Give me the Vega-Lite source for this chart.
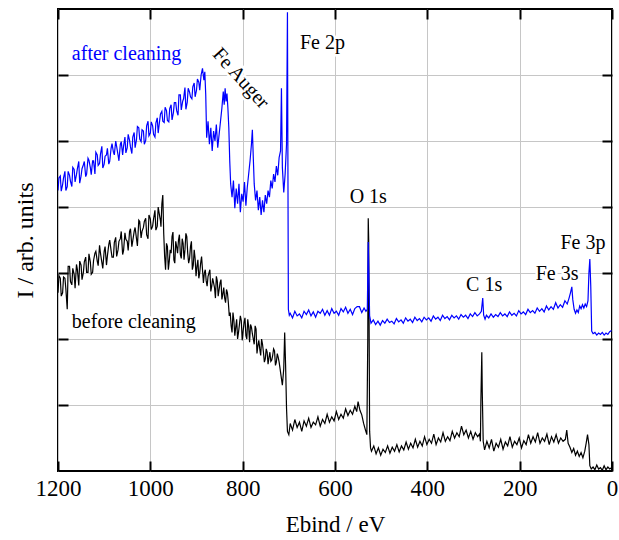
{
  "$schema": "https://vega.github.io/schema/vega-lite/v6.json",
  "width": 554,
  "height": 462,
  "autosize": "none",
  "padding": {"left": 58, "top": 9, "right": 7, "bottom": 69},
  "background": "white",
  "config": {
    "view": {"stroke": "black", "strokeWidth": 2},
    "font": "Liberation Serif",
    "axis": {
      "domain": false,
      "tickSize": -10,
      "tickWidth": 2,
      "tickColor": "black",
      "gridColor": "#c6c6c6",
      "gridWidth": 1,
      "labelFont": "Liberation Serif",
      "labelFontSize": 23,
      "labelColor": "black",
      "labelPadding": 16,
      "labelFlush": false,
      "labelOverlap": false,
      "titleFont": "Liberation Serif",
      "titleFontSize": 23,
      "titleFontWeight": "normal",
      "titleColor": "black"
    }
  },
  "datasets": {
    "after": [
      {"E":1200,"I":4.25},{"E":1195,"I":4.47},{"E":1190,"I":4.34},{"E":1185,"I":4.54},{"E":1180,"I":4.31},{"E":1175,"I":4.48},{"E":1170,"I":4.31},{"E":1165,"I":4.57},{"E":1160,"I":4.49},{"E":1155,"I":4.69},{"E":1150,"I":4.47},{"E":1145,"I":4.64},{"E":1140,"I":4.46},{"E":1135,"I":4.74},{"E":1130,"I":4.60},{"E":1125,"I":4.70},{"E":1120,"I":4.50},{"E":1115,"I":4.79},{"E":1110,"I":4.66},{"E":1105,"I":4.92},{"E":1100,"I":4.65},{"E":1095,"I":4.79},{"E":1090,"I":4.65},{"E":1085,"I":4.89},{"E":1080,"I":4.83},{"E":1075,"I":5.00},{"E":1070,"I":4.79},{"E":1065,"I":4.95},{"E":1060,"I":4.79},{"E":1055,"I":5.06},{"E":1050,"I":4.90},{"E":1045,"I":5.01},{"E":1040,"I":4.81},{"E":1035,"I":5.13},{"E":1030,"I":5.02},{"E":1025,"I":5.20},{"E":1020,"I":4.99},{"E":1015,"I":5.15},{"E":1010,"I":5.01},{"E":1005,"I":5.30},{"E":1000,"I":5.12},{"E":995,"I":5.23},{"E":990,"I":5.06},{"E":985,"I":5.35},{"E":980,"I":5.30},{"E":975,"I":5.45},{"E":970,"I":5.28},{"E":965,"I":5.46},{"E":960,"I":5.29},{"E":955,"I":5.55},{"E":950,"I":5.43},{"E":945,"I":5.58},{"E":940,"I":5.39},{"E":935,"I":5.70},{"E":930,"I":5.60},{"E":925,"I":5.81},{"E":920,"I":5.59},{"E":915,"I":5.74},{"E":910,"I":5.64},{"E":905,"I":5.88},{"E":900,"I":5.77},{"E":895,"I":5.89},{"E":890,"I":6.00},{"E":887,"I":6.10},{"E":884,"I":5.92},{"E":882,"I":6.05},{"E":880,"I":5.70},{"E":878,"I":5.05},{"E":875,"I":5.30},{"E":872,"I":4.95},{"E":869,"I":5.20},{"E":866,"I":4.85},{"E":863,"I":5.15},{"E":860,"I":5.00},{"E":857,"I":5.25},{"E":854,"I":4.90},{"E":851,"I":5.10},{"E":848,"I":5.30},{"E":845,"I":5.50},{"E":842,"I":5.75},{"E":840,"I":5.55},{"E":838,"I":5.80},{"E":836,"I":5.60},{"E":834,"I":5.72},{"E":832,"I":5.50},{"E":830,"I":5.20},{"E":828,"I":4.70},{"E":826,"I":4.35},{"E":823,"I":4.15},{"E":820,"I":4.40},{"E":817,"I":3.98},{"E":814,"I":4.28},{"E":811,"I":4.05},{"E":808,"I":4.35},{"E":805,"I":3.92},{"E":802,"I":4.20},{"E":799,"I":4.08},{"E":796,"I":4.38},{"E":793,"I":4.02},{"E":790,"I":4.30},{"E":787,"I":4.50},{"E":784,"I":4.70},{"E":781,"I":4.95},{"E":779,"I":5.17},{"E":777,"I":4.75},{"E":775,"I":4.35},{"E":772,"I":4.10},{"E":769,"I":4.25},{"E":766,"I":3.95},{"E":763,"I":4.15},{"E":760,"I":3.88},{"E":757,"I":4.10},{"E":754,"I":3.92},{"E":751,"I":4.18},{"E":748,"I":4.05},{"E":745,"I":4.25},{"E":742,"I":4.15},{"E":739,"I":4.40},{"E":736,"I":4.28},{"E":733,"I":4.50},{"E":730,"I":4.38},{"E":727,"I":4.62},{"E":724,"I":4.48},{"E":721,"I":4.75},{"E":718,"I":4.85},{"E":716,"I":5.80},{"E":714,"I":4.60},{"E":711,"I":4.22},{"E":708,"I":4.50},{"E":705,"I":4.95},{"E":703,"I":6.95},{"E":701,"I":2.45},{"E":699,"I":2.36},
      {"E":697,"I":2.39},{"E":692,"I":2.32},{"E":687,"I":2.42},{"E":682,"I":2.35},{"E":677,"I":2.38},{"E":672,"I":2.32},{"E":667,"I":2.42},{"E":662,"I":2.37},{"E":657,"I":2.44},{"E":652,"I":2.35},{"E":647,"I":2.41},{"E":642,"I":2.33},{"E":637,"I":2.42},{"E":632,"I":2.39},{"E":627,"I":2.45},{"E":622,"I":2.36},{"E":617,"I":2.43},{"E":612,"I":2.36},{"E":607,"I":2.46},{"E":602,"I":2.39},{"E":597,"I":2.42},{"E":592,"I":2.36},{"E":587,"I":2.46},{"E":582,"I":2.41},{"E":577,"I":2.48},{"E":572,"I":2.39},{"E":567,"I":2.45},{"E":562,"I":2.37},{"E":557,"I":2.46},{"E":552,"I":2.49},{"E":547,"I":2.49},{"E":542,"I":2.40},{"E":537,"I":2.47},{"E":533,"I":2.42},{"E":530,"I":2.45},{"E":528,"I":3.47},{"E":525,"I":2.35},
      {"E":522,"I":2.24},{"E":517,"I":2.29},{"E":512,"I":2.22},{"E":507,"I":2.27},{"E":502,"I":2.21},{"E":497,"I":2.28},{"E":492,"I":2.24},{"E":487,"I":2.30},{"E":482,"I":2.25},{"E":477,"I":2.27},{"E":472,"I":2.23},{"E":467,"I":2.31},{"E":462,"I":2.26},{"E":457,"I":2.29},{"E":452,"I":2.24},{"E":447,"I":2.32},{"E":442,"I":2.27},{"E":437,"I":2.30},{"E":432,"I":2.25},{"E":427,"I":2.33},{"E":422,"I":2.28},{"E":417,"I":2.31},{"E":412,"I":2.26},{"E":407,"I":2.33},{"E":402,"I":2.29},{"E":397,"I":2.32},{"E":392,"I":2.27},{"E":387,"I":2.35},{"E":382,"I":2.30},{"E":377,"I":2.33},{"E":372,"I":2.28},{"E":367,"I":2.36},{"E":362,"I":2.31},{"E":357,"I":2.34},{"E":352,"I":2.29},{"E":347,"I":2.36},{"E":342,"I":2.32},{"E":337,"I":2.35},{"E":332,"I":2.30},{"E":327,"I":2.37},{"E":322,"I":2.33},{"E":317,"I":2.36},{"E":312,"I":2.31},{"E":307,"I":2.38},{"E":302,"I":2.34},{"E":297,"I":2.40},{"E":292,"I":2.35},{"E":287,"I":2.38},{"E":283,"I":2.42},{"E":280,"I":2.62},{"E":278,"I":2.36},{"E":275,"I":2.30},{"E":272,"I":2.36},
      {"E":267,"I":2.32},{"E":262,"I":2.38},{"E":257,"I":2.33},{"E":252,"I":2.37},{"E":247,"I":2.34},{"E":242,"I":2.40},{"E":237,"I":2.35},{"E":232,"I":2.38},{"E":227,"I":2.34},{"E":222,"I":2.41},{"E":217,"I":2.36},{"E":212,"I":2.39},{"E":207,"I":2.35},{"E":202,"I":2.43},{"E":197,"I":2.38},{"E":192,"I":2.41},{"E":187,"I":2.37},{"E":182,"I":2.45},{"E":177,"I":2.40},{"E":172,"I":2.43},{"E":167,"I":2.39},{"E":162,"I":2.47},{"E":157,"I":2.42},{"E":152,"I":2.46},{"E":147,"I":2.41},{"E":142,"I":2.50},{"E":137,"I":2.44},{"E":132,"I":2.49},{"E":127,"I":2.45},{"E":122,"I":2.55},{"E":117,"I":2.47},{"E":112,"I":2.52},{"E":107,"I":2.48},{"E":102,"I":2.58},{"E":97,"I":2.53},{"E":93,"I":2.62},{"E":90,"I":2.70},{"E":87,"I":2.79},{"E":85,"I":2.60},{"E":82,"I":2.45},{"E":79,"I":2.39},{"E":76,"I":2.44},{"E":73,"I":2.40},{"E":70,"I":2.50},{"E":67,"I":2.46},{"E":64,"I":2.52},{"E":61,"I":2.47},{"E":58,"I":2.53},{"E":55,"I":2.49},{"E":52,"I":2.58},{"E":50,"I":3.00},{"E":48,"I":3.21},{"E":46,"I":2.80},{"E":44,"I":2.12},{"E":41,"I":2.08},{"E":37,"I":2.10},{"E":33,"I":2.06},{"E":29,"I":2.09},{"E":25,"I":2.07},{"E":21,"I":2.10},{"E":17,"I":2.06},{"E":13,"I":2.09},{"E":9,"I":2.07},{"E":5,"I":2.11},{"E":1,"I":2.13},
      {"E":1198,"I":4.44},{"E":1193,"I":4.24},{"E":1188,"I":4.44},{"E":1183,"I":4.25},{"E":1178,"I":4.54},{"E":1173,"I":4.39},{"E":1168,"I":4.60},{"E":1163,"I":4.38},{"E":1158,"I":4.58},{"E":1153,"I":4.36},{"E":1148,"I":4.58},{"E":1143,"I":4.69},{"E":1138,"I":4.50},{"E":1133,"I":4.71},{"E":1128,"I":4.49},{"E":1123,"I":4.70},{"E":1118,"I":4.83},{"E":1113,"I":4.63},{"E":1108,"I":4.80},{"E":1103,"I":4.59},{"E":1098,"I":4.77},{"E":1093,"I":4.89},{"E":1088,"I":4.69},{"E":1083,"I":4.96},{"E":1078,"I":4.79},{"E":1073,"I":4.92},{"E":1068,"I":4.70},{"E":1063,"I":4.99},{"E":1058,"I":4.92},{"E":1053,"I":4.82},{"E":1048,"I":5.10},{"E":1043,"I":4.91},{"E":1038,"I":5.06},{"E":1033,"I":4.90},{"E":1028,"I":5.22},{"E":1023,"I":5.03},{"E":1018,"I":5.17},{"E":1013,"I":4.95},{"E":1008,"I":5.23},{"E":1003,"I":5.08},{"E":998,"I":5.29},{"E":993,"I":5.10},{"E":988,"I":5.27},{"E":983,"I":5.12},{"E":978,"I":5.41},{"E":973,"I":5.30},{"E":968,"I":5.51},{"E":963,"I":5.31},{"E":958,"I":5.49},{"E":953,"I":5.32},{"E":948,"I":5.58},{"E":943,"I":5.46},{"E":938,"I":5.70},{"E":933,"I":5.47},{"E":928,"I":5.64},{"E":923,"I":5.48},{"E":918,"I":5.80},{"E":913,"I":5.67},{"E":908,"I":5.82},{"E":903,"I":5.67},{"E":898,"I":5.94},{"E":893,"I":5.77}
    ],
    "before": [
      {"E":1200,"I":2.70},{"E":1195,"I":2.92},{"E":1190,"I":2.70},{"E":1185,"I":2.92},{"E":1180,"I":2.45},{"E":1175,"I":3.10},{"E":1170,"I":2.82},{"E":1165,"I":2.98},{"E":1160,"I":3.13},{"E":1155,"I":2.81},{"E":1150,"I":3.12},{"E":1145,"I":3.01},{"E":1140,"I":3.24},{"E":1135,"I":3.01},{"E":1130,"I":3.17},{"E":1125,"I":3.01},{"E":1120,"I":3.30},{"E":1115,"I":3.18},{"E":1110,"I":3.42},{"E":1105,"I":3.16},{"E":1100,"I":3.33},{"E":1095,"I":3.12},{"E":1090,"I":3.43},{"E":1085,"I":3.34},{"E":1080,"I":3.24},{"E":1075,"I":3.54},{"E":1070,"I":3.35},{"E":1065,"I":3.52},{"E":1060,"I":3.28},{"E":1055,"I":3.61},{"E":1050,"I":3.48},{"E":1045,"I":3.63},{"E":1040,"I":3.40},{"E":1035,"I":3.63},{"E":1030,"I":3.52},{"E":1025,"I":3.80},{"E":1020,"I":3.53},{"E":1015,"I":3.69},{"E":1010,"I":3.83},{"E":1005,"I":3.52},{"E":1000,"I":3.82},{"E":995,"I":3.71},{"E":990,"I":3.95},{"E":985,"I":3.71},{"E":980,"I":3.87},{"E":977,"I":3.70},{"E":975,"I":4.05},{"E":973,"I":4.18},{"E":971,"I":3.60},
      {"E":969,"I":3.25},{"E":965,"I":3.45},{"E":961,"I":3.05},{"E":957,"I":3.35},{"E":953,"I":3.55},{"E":949,"I":3.20},{"E":945,"I":3.48},{"E":941,"I":3.30},{"E":937,"I":3.58},{"E":933,"I":3.22},{"E":929,"I":3.45},{"E":925,"I":3.35},{"E":921,"I":3.55},{"E":917,"I":3.15},{"E":913,"I":3.40},{"E":909,"I":3.05},{"E":905,"I":3.35},{"E":901,"I":2.95},{"E":897,"I":3.20},{"E":893,"I":3.00},{"E":889,"I":3.25},{"E":885,"I":2.85},{"E":881,"I":3.05},{"E":877,"I":2.80},{"E":873,"I":3.00},{"E":869,"I":2.72},{"E":865,"I":2.92},{"E":861,"I":2.78},{"E":857,"I":2.95},{"E":853,"I":2.65},{"E":849,"I":2.85},{"E":845,"I":2.60},{"E":841,"I":2.78},{"E":837,"I":2.55},{"E":833,"I":2.70},{"E":829,"I":2.35},{"E":825,"I":2.20},{"E":821,"I":2.40},{"E":817,"I":2.05},{"E":813,"I":2.30},{"E":809,"I":2.10},{"E":805,"I":2.35},{"E":801,"I":1.98},{"E":797,"I":2.25},{"E":793,"I":2.05},{"E":789,"I":2.30},{"E":785,"I":1.95},{"E":781,"I":2.18},{"E":777,"I":2.00},{"E":773,"I":2.20},{"E":769,"I":1.78},{"E":765,"I":1.98},{"E":761,"I":1.75},{"E":757,"I":1.92},{"E":753,"I":1.65},{"E":749,"I":1.85},{"E":745,"I":1.62},{"E":741,"I":1.80},{"E":737,"I":1.68},{"E":733,"I":1.85},{"E":729,"I":1.60},{"E":725,"I":1.78},{"E":721,"I":1.65},{"E":717,"I":1.45},{"E":714,"I":1.30},{"E":711,"I":1.55},{"E":709,"I":2.10},{"E":707,"I":1.60},{"E":705,"I":0.95},{"E":703,"I":0.60},{"E":700,"I":0.55},
      {"E":697,"I":0.72},{"E":692,"I":0.62},{"E":687,"I":0.78},{"E":682,"I":0.66},{"E":677,"I":0.74},{"E":672,"I":0.60},{"E":667,"I":0.76},{"E":662,"I":0.68},{"E":657,"I":0.80},{"E":652,"I":0.66},{"E":647,"I":0.74},{"E":642,"I":0.70},{"E":637,"I":0.82},{"E":632,"I":0.68},{"E":627,"I":0.78},{"E":622,"I":0.72},{"E":617,"I":0.86},{"E":612,"I":0.74},{"E":607,"I":0.82},{"E":602,"I":0.76},{"E":597,"I":0.90},{"E":592,"I":0.78},{"E":587,"I":0.86},{"E":582,"I":0.80},{"E":577,"I":0.94},{"E":572,"I":0.84},{"E":567,"I":0.92},{"E":562,"I":0.86},{"E":557,"I":0.98},{"E":553,"I":0.90},{"E":550,"I":1.05},{"E":546,"I":0.92},{"E":542,"I":0.85},{"E":538,"I":0.72},{"E":534,"I":0.62},{"E":531,"I":0.55},{"E":529,"I":2.00},{"E":528,"I":3.83},{"E":527,"I":3.50},{"E":525,"I":0.60},{"E":523,"I":0.35},
      {"E":521,"I":0.30},{"E":516,"I":0.38},{"E":511,"I":0.26},{"E":506,"I":0.35},{"E":501,"I":0.24},{"E":496,"I":0.33},{"E":491,"I":0.28},{"E":486,"I":0.38},{"E":481,"I":0.27},{"E":476,"I":0.36},{"E":471,"I":0.30},{"E":466,"I":0.40},{"E":461,"I":0.29},{"E":456,"I":0.38},{"E":451,"I":0.32},{"E":446,"I":0.44},{"E":441,"I":0.33},{"E":436,"I":0.42},{"E":431,"I":0.35},{"E":426,"I":0.48},{"E":421,"I":0.36},{"E":416,"I":0.45},{"E":411,"I":0.38},{"E":406,"I":0.52},{"E":401,"I":0.40},{"E":396,"I":0.48},{"E":391,"I":0.42},{"E":386,"I":0.56},{"E":381,"I":0.40},{"E":376,"I":0.50},{"E":371,"I":0.44},{"E":366,"I":0.58},{"E":361,"I":0.45},{"E":356,"I":0.52},{"E":351,"I":0.46},{"E":346,"I":0.60},{"E":341,"I":0.50},{"E":336,"I":0.58},{"E":331,"I":0.52},{"E":326,"I":0.68},{"E":321,"I":0.55},{"E":316,"I":0.62},{"E":311,"I":0.50},{"E":306,"I":0.60},{"E":301,"I":0.48},{"E":296,"I":0.58},{"E":291,"I":0.52},{"E":287,"I":0.56},{"E":285,"I":0.45},{"E":284,"I":1.07},{"E":282,"I":1.80},{"E":281,"I":1.20},{"E":279,"I":0.45},{"E":276,"I":0.32},
      {"E":271,"I":0.45},{"E":266,"I":0.35},{"E":261,"I":0.48},{"E":256,"I":0.30},{"E":251,"I":0.42},{"E":246,"I":0.36},{"E":241,"I":0.48},{"E":236,"I":0.33},{"E":231,"I":0.44},{"E":226,"I":0.38},{"E":221,"I":0.52},{"E":216,"I":0.36},{"E":211,"I":0.45},{"E":206,"I":0.40},{"E":201,"I":0.50},{"E":196,"I":0.35},{"E":191,"I":0.46},{"E":186,"I":0.40},{"E":181,"I":0.55},{"E":176,"I":0.42},{"E":171,"I":0.52},{"E":166,"I":0.44},{"E":161,"I":0.58},{"E":156,"I":0.42},{"E":151,"I":0.50},{"E":146,"I":0.45},{"E":141,"I":0.56},{"E":136,"I":0.40},{"E":131,"I":0.52},{"E":126,"I":0.44},{"E":121,"I":0.55},{"E":116,"I":0.42},{"E":111,"I":0.50},{"E":106,"I":0.45},{"E":101,"I":0.48},{"E":98,"I":0.62},{"E":95,"I":0.42},{"E":91,"I":0.36},{"E":87,"I":0.28},{"E":83,"I":0.34},{"E":79,"I":0.24},{"E":75,"I":0.30},{"E":71,"I":0.22},{"E":67,"I":0.28},{"E":63,"I":0.20},{"E":59,"I":0.30},{"E":56,"I":0.42},{"E":53,"I":0.55},{"E":50,"I":0.40},{"E":48,"I":0.08},{"E":45,"I":0.03},{"E":41,"I":0.06},{"E":37,"I":0.02},{"E":33,"I":0.09},{"E":29,"I":0.03},{"E":25,"I":0.05},{"E":21,"I":0.01},{"E":17,"I":0.08},{"E":13,"I":0.02},{"E":9,"I":0.06},{"E":5,"I":0.03},{"E":1,"I":0.05},
      {"E":1198,"I":2.96},{"E":1193,"I":2.65},{"E":1188,"I":2.94},{"E":1183,"I":2.76},{"E":1178,"I":3.10},{"E":1173,"I":2.87},{"E":1168,"I":3.07},{"E":1163,"I":2.77},{"E":1158,"I":3.05},{"E":1153,"I":3.18},{"E":1148,"I":2.90},{"E":1143,"I":3.17},{"E":1138,"I":3.01},{"E":1133,"I":3.29},{"E":1128,"I":2.98},{"E":1123,"I":3.19},{"E":1118,"I":3.33},{"E":1113,"I":3.11},{"E":1108,"I":3.30},{"E":1103,"I":3.07},{"E":1098,"I":3.40},{"E":1093,"I":3.26},{"E":1088,"I":3.50},{"E":1083,"I":3.24},{"E":1078,"I":3.46},{"E":1073,"I":3.25},{"E":1068,"I":3.48},{"E":1063,"I":3.63},{"E":1058,"I":3.34},{"E":1053,"I":3.51},{"E":1048,"I":3.34},{"E":1043,"I":3.67},{"E":1038,"I":3.49},{"E":1033,"I":3.69},{"E":1028,"I":3.41},{"E":1023,"I":3.78},{"E":1018,"I":3.63},{"E":1013,"I":3.78},{"E":1008,"I":3.58},{"E":1003,"I":3.88},{"E":998,"I":3.66},{"E":993,"I":3.82},{"E":988,"I":3.65},{"E":983,"I":4.00},{"E":978,"I":3.79},
      {"E":967,"I":3.05},{"E":963,"I":3.40},{"E":959,"I":3.18},{"E":955,"I":3.30},{"E":951,"I":3.62},{"E":947,"I":3.15},{"E":943,"I":3.40},{"E":939,"I":3.50},{"E":935,"I":3.28},{"E":931,"I":3.52},{"E":927,"I":3.20},{"E":923,"I":3.60},{"E":919,"I":3.30},{"E":915,"I":3.22},{"E":911,"I":3.48},{"E":907,"I":3.12},{"E":903,"I":3.22},{"E":899,"I":3.10},{"E":895,"I":2.92},{"E":891,"I":3.15},{"E":887,"I":3.05},{"E":883,"I":3.00},{"E":879,"I":2.88},{"E":875,"I":2.95},{"E":871,"I":3.05},{"E":867,"I":2.80},{"E":863,"I":2.85},{"E":859,"I":2.62},{"E":855,"I":2.88},{"E":851,"I":2.75},{"E":847,"I":2.90},{"E":843,"I":2.68},{"E":839,"I":2.62},{"E":835,"I":2.75},{"E":831,"I":2.55},{"E":827,"I":2.40},{"E":823,"I":2.10},{"E":819,"I":2.28},{"E":815,"I":2.18},{"E":811,"I":2.00},{"E":807,"I":2.22},{"E":803,"I":2.28},{"E":799,"I":2.12},{"E":795,"I":2.32},{"E":791,"I":2.00},{"E":787,"I":2.18},{"E":783,"I":2.22},{"E":779,"I":2.08},{"E":775,"I":1.92},{"E":771,"I":2.15},{"E":767,"I":1.90},{"E":763,"I":1.85},{"E":759,"I":2.00},{"E":755,"I":1.80},{"E":751,"I":1.70},{"E":747,"I":1.80},{"E":743,"I":1.72},{"E":739,"I":1.66},{"E":735,"I":1.75},{"E":731,"I":1.82},{"E":727,"I":1.65},{"E":723,"I":1.72},{"E":719,"I":1.55}
    ],
    "labelsLeft": [
      {"t":"before cleaning","E":1170,"I":2.26},
      {"t":"Fe 2p","E":676,"I":6.48}
    ],
    "labelsCenter": [
      {"t":"O 1s","E":528,"I":4.15},
      {"t":"C 1s","E":277,"I":2.82},
      {"t":"Fe 3s","E":119,"I":2.98},
      {"t":"Fe 3p","E":63,"I":3.45}
    ],
    "labelsBlue": [
      {"t":"after cleaning","E":1170,"I":6.32}
    ],
    "labelsRot": [
      {"t":"Fe Auger","E":804,"I":5.95}
    ]
  },
  "layer": [
    {
      "data": {"name": "before"},
      "mark": {"type": "line", "color": "black", "strokeWidth": 1.2, "clip": true},
      "encoding": {
        "x": {"field": "E", "type": "quantitative",
              "scale": {"domain": [0, 1200], "reverse": true, "nice": false, "zero": false},
              "axis": {"orient": "bottom", "values": [0,200,400,600,800,1000,1200], "format": "d", "grid": true, "title": "Ebind / eV", "titlePadding": 13}},
        "y": {"field": "I", "type": "quantitative",
              "scale": {"domain": [0, 7], "nice": false, "zero": false},
              "axis": {"orient": "left", "values": [1,2,3,4,5,6], "grid": true, "labels": false, "title": "I / arb. units", "titleFontSize": 24, "titlePadding": 20}}
      }
    },
    {
      "data": {"name": "after"},
      "mark": {"type": "line", "color": "#0000ff", "strokeWidth": 1.2, "clip": true},
      "encoding": {
        "x": {"field": "E", "type": "quantitative",
              "scale": {"domain": [0, 1200], "reverse": true, "nice": false, "zero": false},
              "axis": {"orient": "top", "values": [0,200,400,600,800,1000,1200], "grid": false, "labels": false, "title": null}},
        "y": {"field": "I", "type": "quantitative",
              "scale": {"domain": [0, 7], "nice": false, "zero": false},
              "axis": {"orient": "right", "values": [1,2,3,4,5,6], "grid": false, "labels": false, "title": null}}
      }
    },
    {
      "data": {"name": "labelsLeft"},
      "mark": {"type": "text", "align": "left", "baseline": "middle", "font": "Liberation Serif", "fontSize": 20, "color": "white", "stroke": "white", "strokeWidth": 5},
      "encoding": {"x": {"field": "E", "type": "quantitative", "axis": null}, "y": {"field": "I", "type": "quantitative", "axis": null}, "text": {"field": "t"}}
    },
    {
      "data": {"name": "labelsLeft"},
      "mark": {"type": "text", "align": "left", "baseline": "middle", "font": "Liberation Serif", "fontSize": 20, "color": "black"},
      "encoding": {"x": {"field": "E", "type": "quantitative", "axis": null}, "y": {"field": "I", "type": "quantitative", "axis": null}, "text": {"field": "t"}}
    },
    {
      "data": {"name": "labelsCenter"},
      "mark": {"type": "text", "align": "center", "baseline": "middle", "font": "Liberation Serif", "fontSize": 20, "color": "white", "stroke": "white", "strokeWidth": 5},
      "encoding": {"x": {"field": "E", "type": "quantitative", "axis": null}, "y": {"field": "I", "type": "quantitative", "axis": null}, "text": {"field": "t"}}
    },
    {
      "data": {"name": "labelsCenter"},
      "mark": {"type": "text", "align": "center", "baseline": "middle", "font": "Liberation Serif", "fontSize": 20, "color": "black"},
      "encoding": {"x": {"field": "E", "type": "quantitative", "axis": null}, "y": {"field": "I", "type": "quantitative", "axis": null}, "text": {"field": "t"}}
    },
    {
      "data": {"name": "labelsBlue"},
      "mark": {"type": "text", "align": "left", "baseline": "middle", "font": "Liberation Serif", "fontSize": 20, "color": "#0000ff"},
      "encoding": {"x": {"field": "E", "type": "quantitative", "axis": null}, "y": {"field": "I", "type": "quantitative", "axis": null}, "text": {"field": "t"}}
    },
    {
      "data": {"name": "labelsRot"},
      "mark": {"type": "text", "align": "center", "baseline": "middle", "angle": 48, "font": "Liberation Serif", "fontSize": 20, "color": "white", "stroke": "white", "strokeWidth": 5},
      "encoding": {"x": {"field": "E", "type": "quantitative", "axis": null}, "y": {"field": "I", "type": "quantitative", "axis": null}, "text": {"field": "t"}}
    },
    {
      "data": {"name": "labelsRot"},
      "mark": {"type": "text", "align": "center", "baseline": "middle", "angle": 48, "font": "Liberation Serif", "fontSize": 20, "color": "black"},
      "encoding": {"x": {"field": "E", "type": "quantitative", "axis": null}, "y": {"field": "I", "type": "quantitative", "axis": null}, "text": {"field": "t"}}
    }
  ],
  "resolve": {"axis": {"x": "independent", "y": "independent"}}
}
